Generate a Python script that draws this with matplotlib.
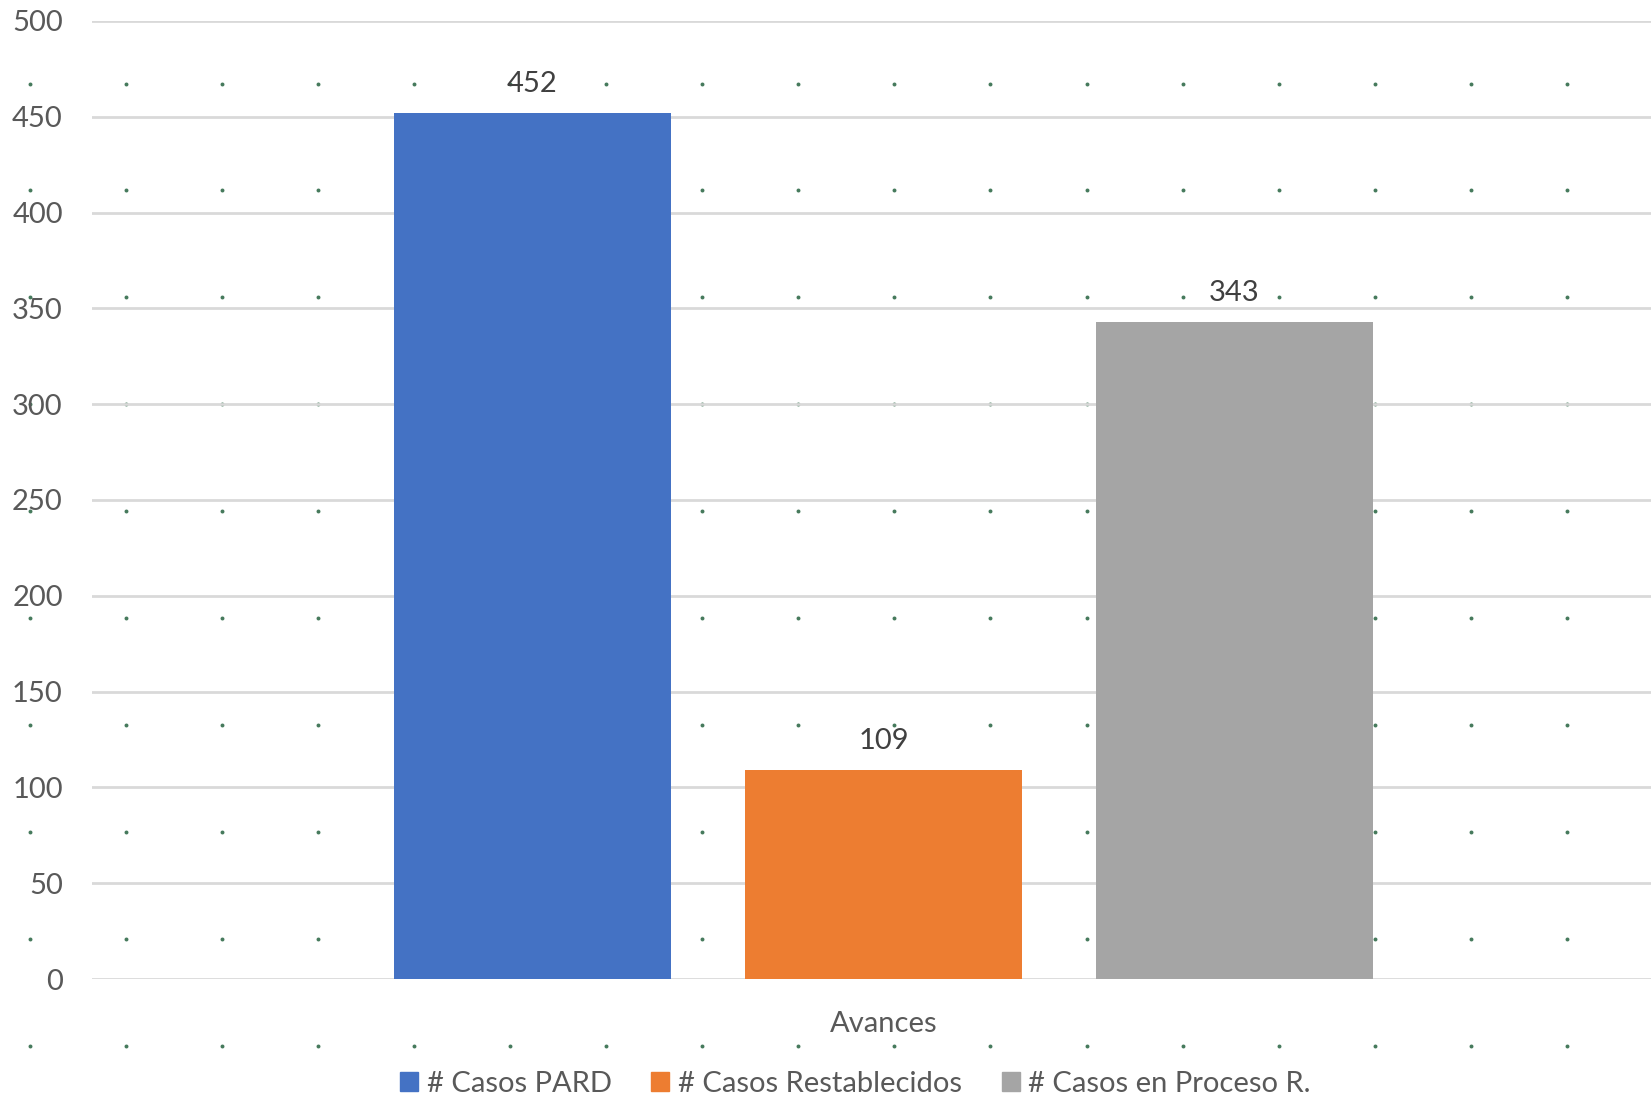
import matplotlib
matplotlib.use("Agg")
import matplotlib.pyplot as plt
import numpy as np

# ---- data ----
series = ["# Casos PARD", "# Casos Restablecidos", "# Casos en Proceso R."]
values = [452, 109, 343]
colors = ["#4472C4", "#ED7D31", "#A5A5A5"]
category = "Avances"
yticks = [0, 50, 100, 150, 200, 250, 300, 350, 400, 450, 500]

plt.rcParams['font.family'] = ['Lato', 'DejaVu Sans']

W, H = 1651, 1098
fig = plt.figure(figsize=(W / 100, H / 100), dpi=100)
fig.patch.set_facecolor("white")

# background dotted texture (sheet grid points)
bg = fig.add_axes([0, 0, 1, 1], zorder=0)
bg.set_xlim(0, W)
bg.set_ylim(H, 0)
bg.axis("off")
dx = np.linspace(29.5, 1567, 17)
dy = np.linspace(83.5, 1046, 10)
gx, gy = np.meshgrid(dx, dy)
bg.scatter(gx.ravel(), gy.ravel(), s=8, color="#467a5c", linewidths=0)

# main axes
left_px, right_px = 92, 1651
top_px, bot_px = 21, 979
ax = fig.add_axes([left_px / W, 1 - bot_px / H, (right_px - left_px) / W, (bot_px - top_px) / H], zorder=1)
ax.patch.set_alpha(0)

bar_w = 1.0
step = 1.0 + 74 / 277
xs = np.arange(len(values)) * step
for x, v, c, lab in zip(xs, values, colors, series):
    ax.bar(x, v, width=bar_w, color=c, label=lab, zorder=3)
    ax.text(x, v + 11, str(v), ha="center", va="baseline", fontsize=21, color="#404040", zorder=4)

px = 277.0
xl = xs[0] - 0.5 - (394 - left_px) / px
xr = xs[0] - 0.5 + (right_px - 394) / px
ax.set_xlim(xl, xr)
ax.set_ylim(0, 500)
ax.set_yticks(yticks)
ax.set_yticklabels([str(t) for t in yticks], fontsize=21, color="#595959")
ax.tick_params(axis="y", length=0, pad=21)
ax.grid(axis="y", color="#D9D9D9", linewidth=2, zorder=0)
ax.set_axisbelow(True)
ax.set_xticks([xs[1]])
ax.set_xticklabels([category], fontsize=21, color="#595959")
ax.tick_params(axis="x", length=0, pad=23)
for s in ax.spines.values():
    s.set_visible(False)

handles = [plt.Rectangle((0, 0), 1, 1, color=c) for c in colors]
leg = fig.legend(handles, series, loc="center", bbox_to_anchor=((396 + 1315) / 2 / W, 1 - 1084 / H),
                 ncol=3, frameon=False, fontsize=21, handlelength=0.62, handleheight=0.62,
                 handletextpad=0.3, columnspacing=1.35, labelcolor="#595959")

fig.savefig("out.png", dpi=100, facecolor="white")
